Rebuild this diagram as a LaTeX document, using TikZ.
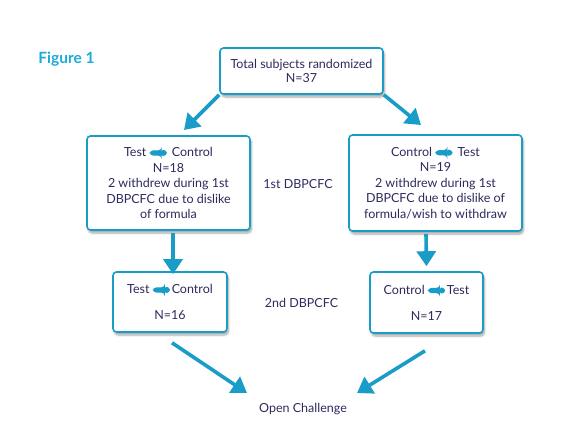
\documentclass[tikz,border=0pt]{standalone}
\usepackage{fontspec}
\setmainfont{Lato}
\usepackage{xcolor}
\usepackage{tikz}
\usetikzlibrary{arrows.meta,positioning,calc,shadows.blur}
\definecolor{fcblue}{HTML}{1A9CC9}
\definecolor{fctitle}{HTML}{1DAADB}
\definecolor{fctext}{HTML}{2D2B5E}
\tikzset{
  fcbox/.style={draw=fcblue, rounded corners=3.5pt, line width=1.6pt, fill=white, align=center,
    text=fctext, font=\fontsize{12.5}{15.5}\selectfont, inner sep=1pt,
    blur shadow={shadow xshift=1.5pt, shadow yshift=-3pt, shadow blur steps=6, shadow opacity=35}},
  fcline/.style={-{Triangle[length=15pt,width=19pt]}, line width=3.6pt, draw=fcblue},
  fclabel/.style={text=fctext, font=\fontsize{12.5}{15}\selectfont}
}
\newcommand{\fcarr}{\tikz[x=1pt, y=1pt, baseline=-3.6pt]\fill[fcblue] (0,-2.6) -- (12,-2.6) -- (12,-4.6) -- (19,0) -- (12,4.6) -- (12,2.6) -- (0,2.6) -- cycle;}
\begin{document}
\begin{tikzpicture}[x=1pt, y=-1pt]
  \useasboundingbox (0,0) rectangle (574,445);
  \node[text=fctitle, font=\fontsize{15.5}{17}\selectfont\bfseries] (fig) at (66.5,59) {Figure 1};

  % randomization
  \node[fcbox, minimum width=163pt, minimum height=46pt, font=\fontsize{12.5}{14.5}\selectfont] (total) at (301.5,71)
    {Total subjects randomized\\N=37};

  % 1st DBPCFC
  \node[fcbox, minimum width=163pt, minimum height=94pt] (tc1) at (168.5,183)
    {Test \fcarr\ Control\\N=18\\2 withdrew during 1st\\DBPCFC due to dislike\\of formula};
  \node[fcbox, minimum width=173pt, minimum height=96pt] (ct1) at (435.5,183)
    {Control \fcarr\ Test\\N=19\\2 withdrew during 1st\\DBPCFC due to dislike of\\formula/wish to withdraw};
  \node[fclabel] (first) at (298,184) {1st DBPCFC};

  % 2nd DBPCFC
  \node[fcbox, minimum width=114pt, minimum height=60pt] (tc2) at (170,302)
    {Test \fcarr{}Control\\[10.5pt]N=16};
  \node[fcbox, minimum width=113pt, minimum height=61pt] (ct2) at (426.5,302.5)
    {Control \fcarr{}Test\\[10.5pt]N=17};
  \node[fclabel] (second) at (301.5,303) {2nd DBPCFC};

  \node[fclabel] (open) at (303,409) {Open Challenge};

  \coordinate (tcin) at (184,130);
  \coordinate (ctin) at (421,125);
  \coordinate (oleft) at (247,393);
  \coordinate (oright) at (357,393);

  \draw[fcline] (total.south west) -- (tcin);
  \draw[fcline] (total.south east) -- (ctin);
  \draw[fcline] ([xshift=4.5pt,yshift=-2pt]tc1.south) -- ([xshift=3pt,yshift=-3pt]tc2.north);
  \draw[fcline] ([xshift=-9.5pt,yshift=-2pt]ct1.south) -- ([yshift=5pt]ct2.north);
  \draw[fcline] ([xshift=2pt,yshift=-10pt]tc2.south) -- (oleft);
  \draw[fcline] ([xshift=-1.5pt,yshift=-17pt]ct2.south) -- (oright);
\end{tikzpicture}
\end{document}
